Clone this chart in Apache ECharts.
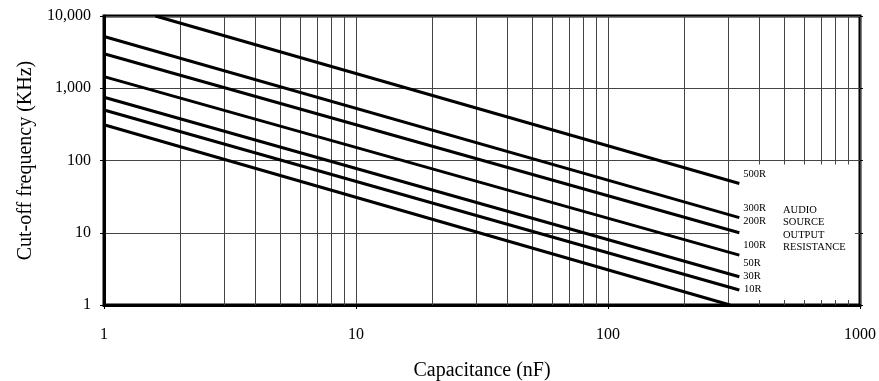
<!DOCTYPE html>
<html><head><meta charset="utf-8">
<script src="https://cdn.jsdelivr.net/npm/echarts@6/dist/echarts.min.js"></script>
<style>html,body{margin:0;padding:0;background:#fff}#c{width:879px;height:381px}</style>
</head><body><div id="c"></div>
<script>
// ---- data ----
const resistanceNames = ['500R', '300R', '200R', '100R', '50R', '30R', '10R'];
const startCap  = [1.6, 1, 1, 1, 1, 1, 1];            // nF
const startFreq = [10000, 5200, 3000, 1450, 750, 500, 313]; // KHz
const endCap    = [332, 332, 332, 332, 332, 332, 305];
const endFreq   = [48, 16.2, 10, 4.9, 2.46, 1.61, 1];
const xMinorGrid = [2,3,4,5,6,7,8,9,20,30,40,50,60,70,80,90,200,300,400,500,600,700,800,900];
const xTickLabels = {1:'1', 10:'10', 100:'100', 1000:'1000'};
const yTickLabels = {1:'1', 10:'10', 100:'100', 1000:'1,000', 10000:'10,000'};
const annotationLines = ['AUDIO', 'SOURCE', 'OUTPUT', 'RESISTANCE'];
const labelBoxRegion = [[304, 1.17], [955, 88]];

// ---- styling (not data) ----
const FONT = "'Liberation Serif', 'Times New Roman', serif";
const endLabelOffsets = [[0,-9],[0,-9],[0,-12],[0,-10],[0,-14],[0,-14],[10,-16]];

const chart = echarts.init(document.getElementById('c'), null, {renderer: 'canvas'});

const lineSeries = resistanceNames.map((name, i) => ({
  name: name,
  type: 'line',
  data: [[startCap[i], startFreq[i]], [endCap[i], endFreq[i]]],
  symbol: 'none',
  z: 6,
  clip: true,
  lineStyle: {color: '#000', width: 3},
  endLabel: {
    show: true,
    formatter: '{a}',
    distance: 4,
    offset: endLabelOffsets[i],
    fontFamily: FONT,
    fontSize: 10.5,
    color: '#000'
  }
}));

const option = {
  animation: false,
  backgroundColor: '#fff',
  grid: {left: 104, right: 19, top: 16, bottom: 76, containLabel: false, outerBoundsMode: 'none',
    show: true, borderColor: '#000', borderWidth: 3, backgroundColor: 'transparent'},
  xAxis: {
    type: 'log', logBase: 10, min: 1, max: 1000, interval: 1,
    name: 'Capacitance (nF)', nameLocation: 'middle', nameGap: 56,
    nameTextStyle: {fontFamily: FONT, fontSize: 20, color: '#000'},
    axisLine: {show: true, lineStyle: {color: '#000', width: 3}},
    axisTick: {show: true, inside: false, length: 4, lineStyle: {color: '#000', width: 1}},
    axisLabel: {fontFamily: FONT, fontSize: 16, color: '#000', margin: 22,
      formatter: v => xTickLabels[Math.round(v)] || ''},
    splitLine: {show: true, lineStyle: {color: '#444', width: 1}}
  },
  yAxis: [{
    type: 'log', logBase: 10, min: 1, max: 10000, interval: 1,
    name: 'Cut-off frequency (KHz)', nameLocation: 'middle', nameGap: 64,
    nameTextStyle: {fontFamily: FONT, fontSize: 20, color: '#000'},
    axisLine: {show: true, lineStyle: {color: '#000', width: 3}},
    axisTick: {show: true, inside: false, length: 4, lineStyle: {color: '#000', width: 1}},
    axisLabel: {fontFamily: FONT, fontSize: 16, color: '#000', margin: 13,
      formatter: v => yTickLabels[Math.round(v)] || ''},
    splitLine: {show: true, lineStyle: {color: '#444', width: 1}}
  }, {
    type: 'log', logBase: 10, min: 1, max: 10000, interval: 1, position: 'right',
    axisLine: {show: false},
    axisTick: {show: true, inside: false, length: 3, lineStyle: {color: '#000', width: 1}},
    axisLabel: {show: false},
    splitLine: {show: false}
  }],
  graphic: [{
    type: 'text', left: 783, top: 204, z: 10,
    style: {text: annotationLines.join('\n'), font: '10.5px ' + FONT, lineHeight: 12.3, fill: '#000'}
  }],
  series: [
    {
      type: 'line', data: [], z: 1, silent: true,
      markLine: {z: 1, silent: true, symbol: ['none', 'none'], label: {show: false}, animation: false,
        lineStyle: {color: '#444', width: 1, type: 'solid'},
        data: xMinorGrid.map(v => ({xAxis: v}))}
    },
    {
      type: 'custom', z: 3, silent: true, clip: false,
      data: [[labelBoxRegion[0][0], labelBoxRegion[0][1], labelBoxRegion[1][0], labelBoxRegion[1][1]]],
      renderItem: function (params, api) {
        const p0 = api.coord([api.value(0), api.value(1)]);
        const p1 = api.coord([api.value(2), api.value(3)]);
        return {type: 'rect', z2: 0, shape: {x: p0[0], y: p1[1], width: p1[0] - p0[0], height: p0[1] - p1[1]},
          style: {fill: '#fff', stroke: null}};
      },
      encode: {x: [0, 2], y: [1, 3]}
    },
    ...lineSeries
  ]
};
chart.setOption(option);
</script>
</body></html>
